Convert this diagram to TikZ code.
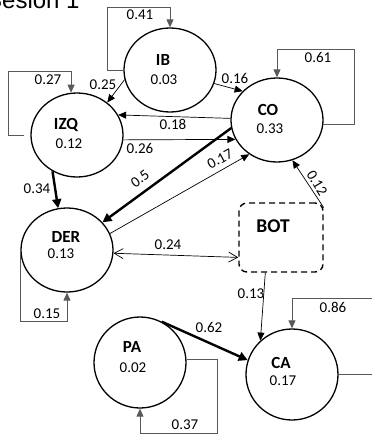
\documentclass[tikz,border=0pt]{standalone}
\usepackage{fontspec}
\setmainfont{Carlito}
\newfontfamily\titlefont{Liberation Sans}
\usetikzlibrary{shapes.geometric,arrows.meta}
\begin{document}
\begin{tikzpicture}[x=1pt,y=-1pt,
  st/.style={ellipse,draw,line width=1.3pt,minimum width=92pt,minimum height=84pt,inner sep=0pt},
  nm/.style={font=\fontsize{17}{19}\selectfont\bfseries,inner sep=0pt},
  nv/.style={font=\fontsize{15}{17}\selectfont,inner sep=0pt},
  lb/.style={font=\fontsize{15}{17}\selectfont,inner sep=0pt},
  ar/.style={-{Triangle[length=8pt,width=7pt]}},
  e1/.style={ar,line width=0.7pt},
  e3/.style={-{Triangle[length=9pt,width=9pt]},line width=2.4pt},
  lp/.style={ar,draw=black!65,line width=0.9pt},
  barb/.style={{Straight Barb[length=9pt,width=10pt]}-{Straight Barb[length=9pt,width=10pt]},line width=0.7pt},
  botbox/.style={draw,line width=1.4pt,rounded corners=8pt,minimum width=84pt,minimum height=69pt,dash pattern=on 6pt off 4pt,inner sep=0pt}
]
\useasboundingbox (0,0) rectangle (372,437);
\node[font=\titlefont\fontsize{24}{28}\selectfont,anchor=base west,inner sep=0pt] (title) at (-14,8) {Sesión 1};

\node[st] (IB) at (170,70) {};
\node[st] (IZQ) at (77,135) {};
\node[st] (CO) at (277,120) {};
\node[st] (DER) at (67,250) {};
\node[st,minimum height=91pt] (PA) at (140,362.5) {};
\node[st,minimum height=91pt] (CA) at (292,374.5) {};
\node[botbox] (BOT) at (281,237.5) {};

\node[nm] (IBn) at (163,60) {IB};
\node[nv] (IBv) at (164,80) {0.03};
\node[nm] (IZQn) at (66,125) {IZQ};
\node[nv] (IZQv) at (69,144) {0.12};
\node[nm] (COn) at (268,110) {CO};
\node[nv] (COv) at (270,128.5) {0.33};
\node[nm] (DERn) at (66,237) {DER};
\node[nv] (DERv) at (61,254) {0.13};
\node[font=\fontsize{19.5}{21}\selectfont\bfseries,inner sep=0pt] (BOTn) at (273,226) {BOT};
\node[nm] (PAn) at (132,347) {PA};
\node[nv] (PAv) at (133,367.5) {0.02};
\node[nm] (CAn) at (281,363) {CA};
\node[nv] (CAv) at (283,381) {0.17};

% self loops
\draw[lp] (IB.west) -| (107,7) -| (IB.north);
\draw[lp] ([xshift=-6pt]IZQ.west) -| (8,71) -| (IZQ.98);
\draw[lp] (CO.-5) -| (354,49) -| (CO.north);
\draw[lp] (DER.west) -| (20,321) -| (DER.south);
\draw[lp] (CA.east) -| (380,298) -| (CA.north);
\draw[lp] (PA.4) -| (217,433) -| (PA.south);

% edges
\draw[e1] (IB.192) -- (IZQ.47);
\draw[e1] (IB.-17) -- (CO.140);
\draw[e1] (CO.178) -- (IZQ.26);
\draw[e1] (IZQ.-6) -- (CO.205);
\draw[e3] (CO.190) -- (DER.38);
\draw[e1] (DER.21) -- (CO.231);
\draw[e3] (IZQ.236) -- (DER.102);
\draw[barb] (DER.-4) -- (BOT.205);
\draw[e1] (BOT.35) -- (CO.-69);
\draw[e1] (BOT.246) -- (CA.133);
\draw[e3] (PA.62) -- (CA.162);

% labels
\node[lb] (l041) at (140,15) {0.41};
\node[lb] (l027) at (48,80) {0.27};
\node[lb] (l025) at (103,85) {0.25};
\node[lb] (l016) at (235,78) {0.16};
\node[lb] (l061) at (318,57) {0.61};
\node[lb] (l018) at (173,124) {0.18};
\node[lb] (l026) at (140,148) {0.26};
\node[lb,rotate=37] (l05) at (140,179) {0.5};
\node[lb,rotate=29] (l017) at (220,159) {0.17};
\node[lb] (l034) at (37,189) {0.34};
\node[lb] (l024) at (168,245) {0.24};
\node[lb,rotate=-59] (l012) at (317,183) {0.12};
\node[lb] (l013) at (251,294) {0.13};
\node[lb] (l015) at (47,314) {0.15};
\node[lb] (l086) at (333,307) {0.86};
\node[lb] (l062) at (209,327) {0.62};
\node[lb] (l037) at (185,425) {0.37};
\end{tikzpicture}
\end{document}
